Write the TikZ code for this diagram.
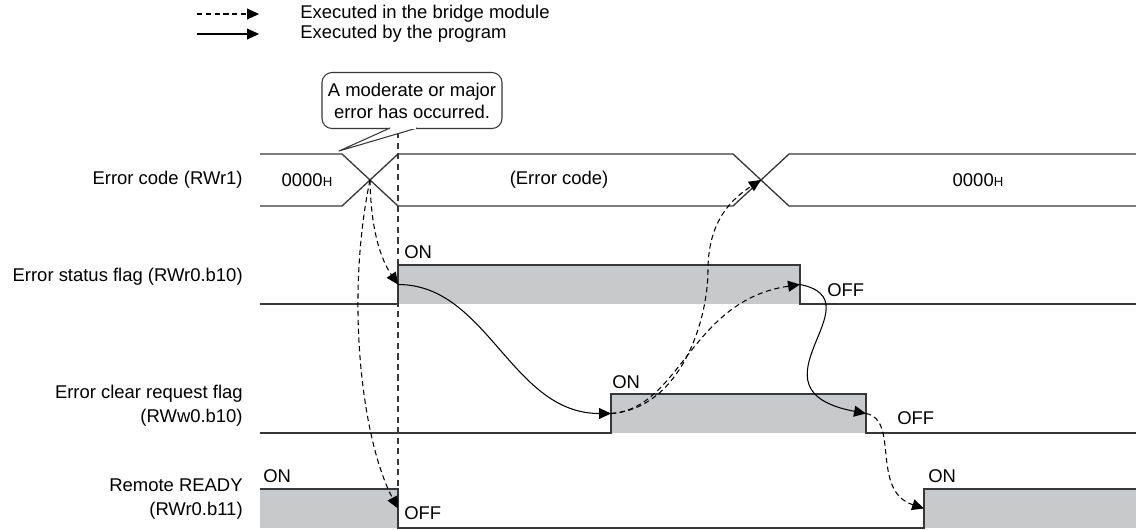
\documentclass[tikz,border=0pt]{standalone}
\usepackage{fontspec}
\setmainfont{Liberation Sans}
\usetikzlibrary{arrows.meta}
\definecolor{levelgray}{RGB}{200,201,203}
\definecolor{wire}{RGB}{55,55,55}
\tikzset{
  % The 'signal' style is for the timing line of every row
  signal/.style={draw=wire, line width=0.75pt},
  % The 'level-high' style fills the ON part of a flag
  level-high/.style={fill=levelgray},
  % The 'by-module' style is the dashed arrow (done by the bridge module)
  by-module/.style={draw=black, line width=0.6pt, dash pattern=on 3pt off 2pt, -{Triangle[length=6.8pt,width=6.2pt]}},
  % The 'by-program' style is the solid arrow (done by the program)
  by-program/.style={draw=black, line width=0.6pt, -{Triangle[length=6.8pt,width=6.2pt]}},
  % The 'row-label' style is for the signal names on the left
  row-label/.style={font=\fontsize{10.5}{13.5}\selectfont, anchor=east, align=right, inner sep=0pt},
  % The 'state-text' style is for ON/OFF and the values
  state-text/.style={font=\fontsize{10.5}{12}\selectfont, inner sep=0pt},
  % The 'note-box' style is the rounded callout
  note-box/.style={draw=wire, line width=0.6pt, rounded corners=0.2cm, fill=white, minimum width=3.6cm, minimum height=1.12cm, align=center, inner sep=0pt, font=\fontsize{10.5}{12.5}\selectfont}
}
\newcommand{\hexH}{{\fontsize{7.5}{8}\selectfont H}}

\begin{document}
\begin{tikzpicture}[x=0.02cm, y=-0.02cm]
  \useasboundingbox (0,0) rectangle (1136,529);

  % Legend
  \coordinate (leg-dash-a) at (197,14);
  \coordinate (leg-dash-b) at (259,14);
  \coordinate (leg-solid-a) at (197,34);
  \coordinate (leg-solid-b) at (259,34);
  \draw[by-module] (leg-dash-a) -- (leg-dash-b);
  \draw[by-program] (leg-solid-a) -- (leg-solid-b);
  \node[state-text, anchor=west] (leg-dash-txt) at (300,14) {Executed in the bridge module};
  \node[state-text, anchor=west] (leg-solid-txt) at (300,34) {Executed by the program};

  % Event points on the time axis
  \coordinate (cross-a) at (370,180);   % error code changes
  \coordinate (cross-b) at (761,180);   % error code cleared
  \coordinate (st-on) at (398,284.5);
  \coordinate (st-off) at (800,284.5);
  \coordinate (cl-on) at (611,413.5);
  \coordinate (cl-off) at (866,413.5);
  \coordinate (rd-off) at (398,508.5);
  \coordinate (rd-on) at (924,508.5);

  % Signal names
  \node[row-label] (lbl-code) at (243,180) {Error code (RWr1)};
  \node[row-label] (lbl-status) at (243,277) {Error status flag (RWr0.b10)};
  \node[row-label] (lbl-clear) at (243,406) {Error clear request flag\\(RWw0.b10)};
  \node[row-label] (lbl-ready) at (243,499) {Remote READY\ \\(RWr0.b11)};

  % Error code bus
  \draw[signal] (260,154) -- (342,154) -- (398,206) -- (733,206) -- (789,154) -- (1136,154);
  \draw[signal] (260,206) -- (342,206) -- (398,154) -- (733,154) -- (789,206) -- (1136,206);
  \node[state-text] (val-old) at (307,180) {0000\hexH};
  \node[state-text] (val-err) at (559,180) {(Error code)};
  \node[state-text] (val-new) at (978,180) {0000\hexH};

  % Error status flag
  \fill[level-high] (398,265) rectangle (800,304);
  \draw[signal] (260,304) -- (398,304) -- (398,265) -- (800,265) -- (800,304) -- (1136,304);
  \node[state-text, anchor=west] (st-on-txt) at (404,252) {ON};
  \node[state-text, anchor=west] (st-off-txt) at (827,290) {OFF};

  % Error clear request flag
  \fill[level-high] (611,394) rectangle (866,433);
  \draw[signal] (260,433) -- (611,433) -- (611,394) -- (866,394) -- (866,433) -- (1136,433);
  \node[state-text, anchor=west] (cl-on-txt) at (612,382) {ON};
  \node[state-text, anchor=west] (cl-off-txt) at (897,418) {OFF};

  % Remote READY
  \fill[level-high] (260,489) rectangle (398,528);
  \fill[level-high] (924,489) rectangle (1136,528);
  \draw[signal] (260,489) -- (398,489) -- (398,528) -- (924,528) -- (924,489) -- (1136,489);
  \node[state-text, anchor=west] (rd-on-txt) at (263,476) {ON};
  \node[state-text, anchor=west] (rd-off-txt) at (404,513) {OFF};
  \node[state-text, anchor=west] (rd-on2-txt) at (928,476) {ON};

  % Time of the error
  \draw[wire, line width=0.6pt, dash pattern=on 3.5pt off 2.5pt] (398,132) -- (398,489);

  % Callout
  \node[note-box] (note) at (412,100.5) {A moderate or major\\error has occurred.};
  \coordinate (note-tip) at (339,151);
  \coordinate (note-l) at (390,128);
  \coordinate (note-r) at (417,128);
  \filldraw[draw=wire, fill=white, line width=0.6pt, line join=round] (note-l) -- (note-tip) -- (note-r);
  \draw[white, line width=1pt] ([xshift=0.4pt]note-l) -- ([xshift=-0.4pt]note-r);

  % Arrows
  \draw[by-module] (cross-a) .. controls +(1,60) and +(-13,-19) .. (st-on);
  \draw[by-module] (cross-a) .. controls +(-25,120) and +(-36,-68) .. (rd-off);
  \draw[by-program] (st-on) .. controls +(90,0) and +(-100,0) .. (cl-on);
  \draw[by-module] (cl-on) .. controls +(70,-5) and +(-110,16) .. (st-off);
  \draw[by-module] (cl-on) .. controls +(70,-5) and +(0,50) .. (708,270)
                           .. controls +(0,-50) and +(-28,18) .. (cross-b);
  \draw[by-program] (st-off) .. controls +(80,16) and +(-126,-24) .. (cl-off);
  \draw[by-module] (cl-off) .. controls +(34,6) and +(-54,-18) .. (rd-on);

\end{tikzpicture}
\end{document}
